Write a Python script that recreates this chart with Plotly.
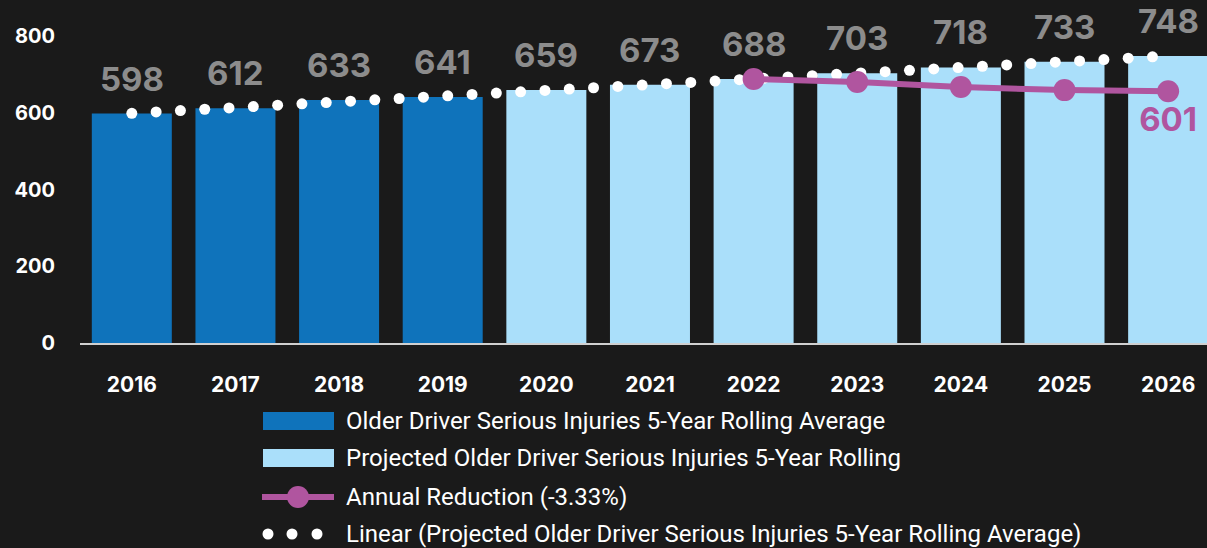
import numpy as np
import plotly.graph_objects as go

# ---- data ----
years_actual = [2016, 2017, 2018, 2019]
values_actual = [598, 612, 633, 641]
years_proj = [2020, 2021, 2022, 2023, 2024, 2025, 2026]
values_proj = [659, 673, 688, 703, 718, 733, 748]
years_reduction = [2022, 2023, 2024, 2025, 2026]
values_reduction = [688, 680, 667, 659, 656]
labels_reduction = ["", "", "", "", "601"]
y_ticks = [0, 200, 400, 600, 800]

name_actual = "Older Driver Serious Injuries 5-Year Rolling Average"
name_proj = "Projected Older Driver Serious Injuries 5-Year Rolling"
name_red = "Annual Reduction (-3.33%)"
name_lin = "Linear (Projected Older Driver Serious Injuries 5-Year Rolling Average)"

# ---- styles ----
BG = "#1a1a1a"
DARK = "#0f73bb"
LIGHT = "#aadffa"
PINK = "#b0559f"
GRAY = "#8c8c8c"
FONT = "Inter"

W, H = 1207, 548
ML, MR, MT, MB = 80, 0, 5, 205
PW, PH = W - ML - MR, H - MT - MB

# linear trend of all bar values (as the spreadsheet trendline)
all_years = np.array(years_actual + years_proj, dtype=float)
all_vals = np.array(values_actual + values_proj, dtype=float)
slope, intercept = np.polyfit(all_years, all_vals, 1)
trend_x = np.arange(all_years.min(), all_years.max() + 1e-9, 0.2345)
trend_y = slope * trend_x + intercept

fig = go.Figure()
bw = 0.772
fig.add_trace(go.Bar(x=years_actual, y=values_actual, width=bw, marker=dict(color=DARK, line_width=0),
                     name=name_actual, showlegend=False))
fig.add_trace(go.Bar(x=years_proj, y=values_proj, width=bw, marker=dict(color=LIGHT, line_width=0),
                     name=name_proj, showlegend=False))
fig.add_trace(go.Scatter(x=trend_x, y=trend_y, mode="markers",
                         marker=dict(color="white", size=11, line_width=0),
                         name=name_lin, showlegend=False))
fig.add_trace(go.Scatter(x=years_reduction, y=values_reduction, mode="lines+markers+text",
                         line=dict(color=PINK, width=6), marker=dict(color=PINK, size=22),
                         text=labels_reduction, textposition="bottom center",
                         textfont=dict(family=FONT, size=33, color=PINK, weight="bold"),
                         name=name_red, showlegend=False))

# value labels above bars
for x, v in zip(years_actual + years_proj, values_actual + values_proj):
    fig.add_annotation(x=x, y=v, text=str(v), showarrow=False, yshift=35,
                       font=dict(family=FONT, size=33, color=GRAY, weight="bold"))

# ---- manual legend ----
def px_x(px):
    return (px - ML) / PW

def px_y(py):
    return (H - MB - py) / PH

rows = [421, 458, 497, 534]
names = [name_actual, name_proj, name_red, name_lin]
for i, (ry, nm) in enumerate(zip(rows, names)):
    fig.add_annotation(xref="paper", yref="paper", x=px_x(344), y=px_y(ry), text=nm,
                       xanchor="left", yanchor="middle", showarrow=False,
                       font=dict(family="Roboto", size=24, color="white"))
for ry, col in zip(rows[:2], [DARK, LIGHT]):
    fig.add_shape(type="rect", xref="paper", yref="paper", x0=px_x(263), x1=px_x(334),
                  y0=px_y(ry - 9), y1=px_y(ry + 9), fillcolor=col, line_width=0)
fig.add_shape(type="line", xref="paper", yref="paper", x0=px_x(262), x1=px_x(334),
              y0=px_y(rows[2]), y1=px_y(rows[2]), line=dict(color=PINK, width=6))
fig.add_shape(type="circle", xref="paper", yref="paper", x0=px_x(287), x1=px_x(309),
              y0=px_y(rows[2] - 11), y1=px_y(rows[2] + 11), fillcolor=PINK, line_width=0)
for cx in [268, 292, 317]:
    fig.add_shape(type="circle", xref="paper", yref="paper", x0=px_x(cx - 5.5), x1=px_x(cx + 5.5),
                  y0=px_y(rows[3] - 5.5), y1=px_y(rows[3] + 5.5), fillcolor="white", line_width=0)

yr = 800 * PH / (H - MB - 36)
fig.update_layout(
    width=W, height=H, margin=dict(l=ML, r=MR, t=MT, b=MB),
    paper_bgcolor=BG, plot_bgcolor=BG, showlegend=False,
    xaxis=dict(range=[2015.5, 2026.375], tickvals=years_actual + years_proj,
               ticktext=[str(y) for y in years_actual + years_proj],
               showgrid=False, zeroline=False, showline=True, linecolor="#d0d0d0", linewidth=2,
               ticks="", ticklabelstandoff=22,
               tickfont=dict(family=FONT, size=21, color="white", weight="bold")),
    yaxis=dict(range=[0, yr], tickvals=y_ticks, showgrid=False, zeroline=False, showline=False,
               ticks="", ticklabelstandoff=24,
               tickfont=dict(family=FONT, size=20, color="white", weight="bold")),
)
fig.write_html("out.html", config={"displayModeBar": False},
               post_script="document.body.style.margin='0';document.body.style.background='%s';" % BG)
